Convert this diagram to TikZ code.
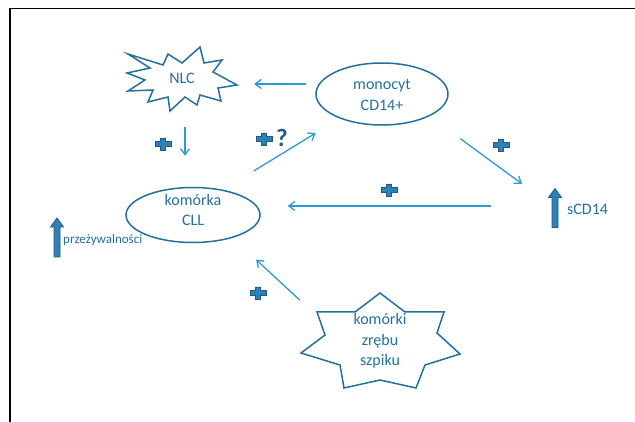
\documentclass[tikz,border=0pt]{standalone}
\usepackage{fontspec}
\setmainfont{Carlito}
\usetikzlibrary{arrows.meta,shapes.geometric}

\definecolor{cellblue}{HTML}{23709F}
\definecolor{linkblue}{HTML}{2E9AD0}
\definecolor{plusfill}{HTML}{2F80B5}
\definecolor{plusedge}{HTML}{1D5C86}

\begin{document}
\begin{tikzpicture}[x=1pt,y=-1pt,
	cell/.style={ellipse, draw=cellblue, line width=1.5pt, inner sep=0pt},
	lbl/.style={text=cellblue, font=\fontsize{16}{20.5}\selectfont, align=center},
	link/.style={draw=linkblue, line width=1.3pt, -{Straight Barb[length=6pt,width=9pt]}},
	outline/.style={draw=cellblue, line width=1.5pt, line join=miter},
	plussign/.pic={\filldraw[fill=plusfill, draw=plusedge, line width=0.8pt]
		(-8,-2.5) -- (-2.5,-2.5) -- (-2.5,-6) -- (2.5,-6) -- (2.5,-2.5) -- (8,-2.5)
		-- (8,2.5) -- (2.5,2.5) -- (2.5,6) -- (-2.5,6) -- (-2.5,2.5) -- (-8,2.5) -- cycle;},
	thickup/.pic={\filldraw[fill=plusfill, draw=plusedge, line width=0.8pt]
		(-3,19.5) -- (-3,-10.5) -- (-6.5,-10.5) -- (0,-19.5) -- (6.5,-10.5) -- (3,-10.5) -- (3,19.5) -- cycle;}]
	\useasboundingbox (0,0) rectangle (635,422);
	\draw[line width=1.6pt] (10,422) -- (10,8.5) -- (635,8.5);
	
	% cells
	\node[cell, minimum width=132pt, minimum height=62pt] (mono) at (382,94) {};
	\node[lbl] (monotxt) at (382,95) {monocyt\\CD14+};
	\node[cell, minimum width=134pt, minimum height=55pt] (cll) at (193,215) {};
	\node[lbl] (clltxt) at (193,210) {komórka\\CLL};
	\node[lbl, minimum width=110pt, minimum height=64pt, inner sep=0pt] (nlc) at (182,78) {NLC};
	\node[lbl, minimum width=160pt, minimum height=96pt, inner sep=0pt] (stroma) at (380,341) {komórki\\zrębu\\szpiku};
	
	\draw[outline, shift={(nlc.center)}] (-54,-24) -- (-19,-13) -- (-14,-24) -- (0,-15) -- (18,-31) -- (22,-15)
		-- (40,-18) -- (31,-6) -- (55,7) -- (36,10) -- (39,23) -- (18,17) -- (15,27) -- (3,19) -- (-12,33)
		-- (-14,19) -- (-34,24) -- (-29,12) -- (-54,13) -- (-37,2) -- (-55,-5) -- (-32,-10) -- cycle;
	\draw[outline, shift={(stroma.center)}] (0,-48) -- (25,-29) -- (64,-29) -- (57,-8) -- (80,13) -- (45,24)
		-- (36,47) -- (0,39) -- (-36,47) -- (-40,24) -- (-79,12) -- (-55,-6) -- (-63,-29) -- (-25,-29) -- cycle;
	
	% survival / sCD14
	\coordinate (survup) at (57,237.5);
	\pic at (survup) {thickup};
	\node[lbl, font=\fontsize{13}{15}\selectfont, anchor=west, inner sep=0pt] (survtxt) at (63,240) {przeżywalności};
	\coordinate (scdup) at (555,208);
	\pic at (scdup) {thickup};
	\node[lbl, anchor=west, inner sep=0pt] (scdtxt) at (567,209) {sCD14};
	
	% connectors
	\draw[link, shorten <=13pt, shorten >=17pt] (mono.171) -- (mono.171 -| nlc.east);
	\draw[link, shorten <=17pt, shorten >=31pt] ([xshift=3pt]nlc.south) -- ([xshift=3pt]nlc.south |- cll.north);
	\draw[link, shorten <=36pt, shorten >=28pt] (cll.40) -- (mono.210);
	\draw[link, shorten <=38pt, shorten >=41pt] (mono.-25) -- (scdup);
	\draw[link, shorten <=64pt, shorten >=27pt] ([yshift=2pt]scdup) -- ([yshift=2pt]scdup -| cll.east);
	\draw[link, shorten >=32pt] (stroma.153) -- (cll.-30);
	
	% plus signs
	\pic at (163,144) {plussign};
	\pic at (264,139) {plussign};
	\node[text=plusedge, font=\fontsize{25}{25}\selectfont\bfseries] (qmark) at (282,138) {?};
	\pic at (501,145) {plussign};
	\pic at (389,190) {plussign};
	\pic at (258,293) {plussign};
\end{tikzpicture}
\end{document}
